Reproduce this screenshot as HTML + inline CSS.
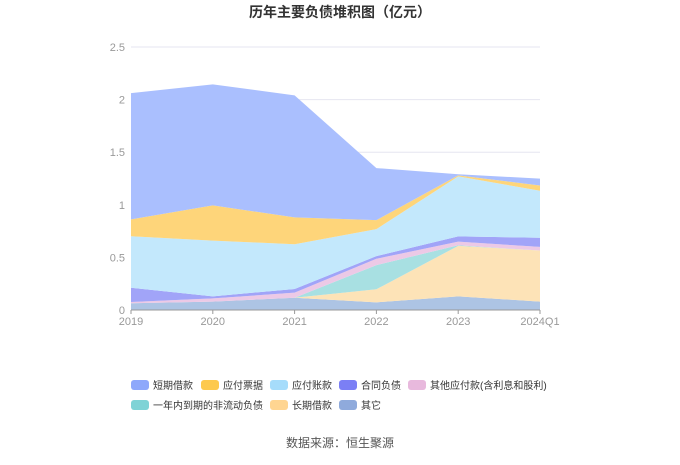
<!DOCTYPE html>
<html><head><meta charset="utf-8"><style>
body{margin:0;background:#fff;font-family:"Liberation Sans","Noto Sans CJK SC",sans-serif;}
svg text{font-family:"Liberation Sans","Noto Sans CJK SC",sans-serif;}
</style></head><body>
<svg id="chart" width="680" height="460">
<text x="340" y="17" text-anchor="middle" font-size="14" font-weight="bold" fill="#333">历年主要负债堆积图（亿元）</text>
<g id="grid"></g><g id="areas"></g><g id="axes"></g><g id="legend"></g>
<text x="340" y="447" text-anchor="middle" font-size="12" fill="#555">数据来源：恒生聚源</text>
</svg>
<script>
const categories=["2019","2020","2021","2022","2023","2024Q1"];
const yTicks=[0,0.5,1,1.5,2,2.5];
const seriesNames=["其它","长期借款","一年内到期的非流动负债","其他应付款(含利息和股利)","合同负债","应付账款","应付票据","短期借款"];
const other=[0.064,0.08,0.117,0.073,0.13,0.08];
const longLoan=[0,0,0,0.124,0.48,0.485];
const currentNonCurrent=[0,0,0,0.23,0.005,0];
const otherPayables=[0.012,0.03,0.048,0.06,0.035,0.035];
const contractLiab=[0.135,0.02,0.035,0.025,0.05,0.087];
const accountsPayable=[0.49,0.53,0.425,0.257,0.57,0.447];
const billsPayable=[0.16,0.335,0.255,0.085,0.01,0.05];
const shortLoan=[1.2,1.15,1.16,0.495,0.01,0.065];
const seriesValues=[other,longLoan,currentNonCurrent,otherPayables,contractLiab,accountsPayable,billsPayable,shortLoan];
const fills=["#adc4e4","#fde3b7","#a8e0e2","#ecc9e6","#a1a4f8","#c3e8fc","#fed57a","#aabffe"];
const legendColors=["#8faadc","#ffd591","#7fd3d6","#e8b9dd","#7b7ff5","#a6dcfb","#fdc94d","#8ea8fb"];
const x0=131,x1=540,yb=310,yt=47,ymax=2.5;
const X=i=>x0+i*(x1-x0)/(categories.length-1);
const Y=v=>yb-v*(yb-yt)/ymax;
const NS="http://www.w3.org/2000/svg";
function mk(t,a,p){const e=document.createElementNS(NS,t);for(const k in a)e.setAttribute(k,a[k]);p.appendChild(e);return e;}
const grid=document.getElementById('grid'),areas=document.getElementById('areas'),axes=document.getElementById('axes'),legend=document.getElementById('legend');
yTicks.forEach(v=>{
 if(v>0){const l=mk('line',{x1:x0,x2:x1,y1:Y(v),y2:Y(v),stroke:'#e6e6f0','stroke-width':1},grid);
 
 }
 const t=mk('text',{x:x0-6,y:Y(v)+4,'text-anchor':'end','font-size':11,fill:'#999'},axes);t.textContent=String(v);
 
 
});
let base=categories.map(()=>0);
seriesValues.forEach((s,k)=>{
 const top=base.map((b,i)=>b+s[i]);
 let d='M'+top.map((v,i)=>X(i)+','+Y(v)).join('L');
 for(let i=categories.length-1;i>=0;i--)d+='L'+X(i)+','+Y(base[i]);
 const p=mk('path',{d:d+'Z',fill:fills[k]},areas);
 
 
 base=top;
});
const ax=mk('line',{x1:x0,x2:x1,y1:yb,y2:yb,stroke:'#999'},axes);


categories.forEach((c,i)=>{
 mk('line',{x1:X(i),x2:X(i),y1:yb,y2:yb+4,stroke:'#999'},axes);
 const t=mk('text',{x:X(i),y:yb+15,'text-anchor':'middle','font-size':11,fill:'#999'},axes);t.textContent=c;
 
 
});
const order=[7,6,5,4,3,2,1,0];
const lpos=[[131,385],[201,385],[270,385],[339,385],[408,385],[131,405],[270,405],[339,405]];
order.forEach((k,j)=>{
 const [lx,ly]=lpos[j];
 const g=mk('g',{},legend);
 
 
 mk('rect',{x:lx,y:ly-5,width:18,height:10,rx:3,fill:legendColors[k]},g);
 const t=mk('text',{x:lx+22,y:ly+4,'font-size':10,fill:'#333'},g);t.textContent=seriesNames[k];
});
</script>
</body></html>
